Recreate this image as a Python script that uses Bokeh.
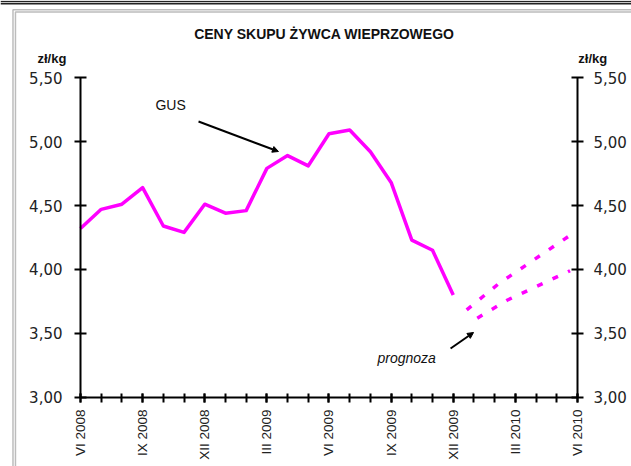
import math
from bokeh.plotting import figure
from bokeh.models import (Range1d, LinearAxis, FixedTicker, CustomJSTickFormatter,
                          Label, Arrow, NormalHead, BoxAnnotation, Span)
from bokeh.embed import file_html
from bokeh.resources import INLINE

# ---- data ----
month_index = list(range(19))          # VI 2008 ... XII 2009
gus_price = [4.32, 4.47, 4.51, 4.64, 4.34, 4.29, 4.51, 4.44, 4.46, 4.79,
             4.89, 4.81, 5.06, 5.09, 4.92, 4.68, 4.23, 4.15, 3.80]
forecast_hi_x = [18.65, 20.2, 23.67]
forecast_hi = [3.685, 3.89, 4.27]
forecast_lo_x = [19.16, 20.6, 23.64]
forecast_lo = [3.62, 3.76, 3.99]
tick_positions = [0, 3, 6, 9, 12, 15, 18, 21, 24]
tick_labels = ["VI 2008", "IX 2008", "XII 2008", "III 2009", "VI 2009",
               "IX 2009", "XII 2009", "III 2010", "VI 2010"]
minor_positions = list(range(25))
y_ticks = [3.0, 3.5, 4.0, 4.5, 5.0, 5.5]

MAGENTA = "#ff00ff"
INK = "#111111"

# frame covers the whole canvas; axes are pinned inside it
p = figure(width=631, height=466, x_range=Range1d(-3.863, 26.608),
           y_range=Range1d(2.4609, 6.1016),
           output_backend="svg", toolbar_location=None,
           x_axis_location=None, y_axis_location=None,
           min_border_left=0, min_border_right=0, min_border_top=0, min_border_bottom=0)
p.outline_line_color = None
p.xgrid.visible = False
p.ygrid.visible = False
p.background_fill_color = "white"
p.border_fill_color = "white"

left_axis = LinearAxis(fixed_location=0, bounds=(3, 5.5))
right_axis = LinearAxis(fixed_location=24, bounds=(3, 5.5))
p.add_layout(left_axis, "left")
p.add_layout(right_axis, "right")
for ax, standoff in ((left_axis, 12), (right_axis, 10)):
    ax.ticker = FixedTicker(ticks=y_ticks, minor_ticks=[])
    ax.formatter = CustomJSTickFormatter(code="return tick.toFixed(2).replace('.', ',');")
    ax.axis_line_color = "black"
    ax.axis_line_width = 2
    ax.major_tick_line_color = "black"
    ax.major_tick_line_width = 2
    ax.major_tick_in = 6
    ax.major_tick_out = 6
    ax.minor_tick_line_color = None
    ax.major_label_text_font = "DejaVu Sans"
    ax.major_label_text_font_size = "15px"
    ax.major_label_text_color = "#222222"
    ax.major_label_standoff = standoff

xa = LinearAxis(fixed_location=3, bounds=(0, 24))
p.add_layout(xa, "below")
xa.ticker = FixedTicker(ticks=tick_positions, minor_ticks=minor_positions)
xa.major_label_overrides = {pos: lab for pos, lab in zip(tick_positions, tick_labels)}
xa.major_label_orientation = math.pi / 2
xa.axis_line_color = "black"
xa.axis_line_width = 2
xa.major_tick_line_color = "black"
xa.major_tick_line_width = 2
xa.major_tick_in = 4
xa.major_tick_out = 5
xa.minor_tick_line_color = "black"
xa.minor_tick_line_width = 2
xa.minor_tick_in = 4
xa.minor_tick_out = 5
xa.major_label_text_font = "Liberation Sans"
xa.major_label_text_font_size = "13.5px"
xa.major_label_text_color = "#222222"
xa.major_label_standoff = 7

# series
p.line(month_index, gus_price, line_color=MAGENTA, line_width=3.5, line_join="round")
p.line(forecast_hi_x, forecast_hi, line_color=MAGENTA, line_width=3.5, line_dash="6 11")
p.line(forecast_lo_x, forecast_lo, line_color=MAGENTA, line_width=3.5, line_dash="6 11")

# page border lines (double rules)
for loc in (6.094, 6.076):
    p.add_layout(Span(location=loc, dimension="width", line_color="#222222", line_width=1.5))
for dx, dy in ((0.0, 0.0), (0.12, -0.018)):
    p.add_layout(BoxAnnotation(left=-3.26 + dx, right=40, top=6.03 + dy, bottom=0,
                               fill_alpha=0, line_color="#222222", line_width=1.5))

# texts
p.add_layout(Label(x=11.78, y=5.836, text="CENY SKUPU ŻYWCA WIEPRZOWEGO",
                   text_align="center", text_baseline="alphabetic",
                   text_font="Liberation Sans", text_font_style="bold",
                   text_font_size="14px", text_color=INK))
for xx in (-1.38, 24.74):
    p.add_layout(Label(x=xx, y=5.645, text="zł/kg", text_align="center",
                       text_baseline="alphabetic", text_font="Liberation Sans",
                       text_font_style="bold", text_font_size="13px", text_color=INK))
p.add_layout(Label(x=3.62, y=5.289, text="GUS", text_align="left",
                   text_baseline="alphabetic", text_font="Liberation Sans",
                   text_font_size="14px", text_color=INK))
p.add_layout(Label(x=14.34, y=3.305, text="prognoza", text_align="left",
                   text_baseline="alphabetic", text_font="Liberation Sans",
                   text_font_style="italic", text_font_size="14px", text_color=INK))

# arrows
p.add_layout(Arrow(x_start=5.70, y_start=5.156, x_end=9.56, y_end=4.922,
                   line_color="black", line_width=2,
                   end=NormalHead(size=6, fill_color="black", line_color="black")))
p.add_layout(Arrow(x_start=17.87, y_start=3.383, x_end=18.98, y_end=3.508,
                   line_color="black", line_width=2,
                   end=NormalHead(size=6, fill_color="black", line_color="black")))

open("out.html", "w").write(file_html(p, INLINE))
